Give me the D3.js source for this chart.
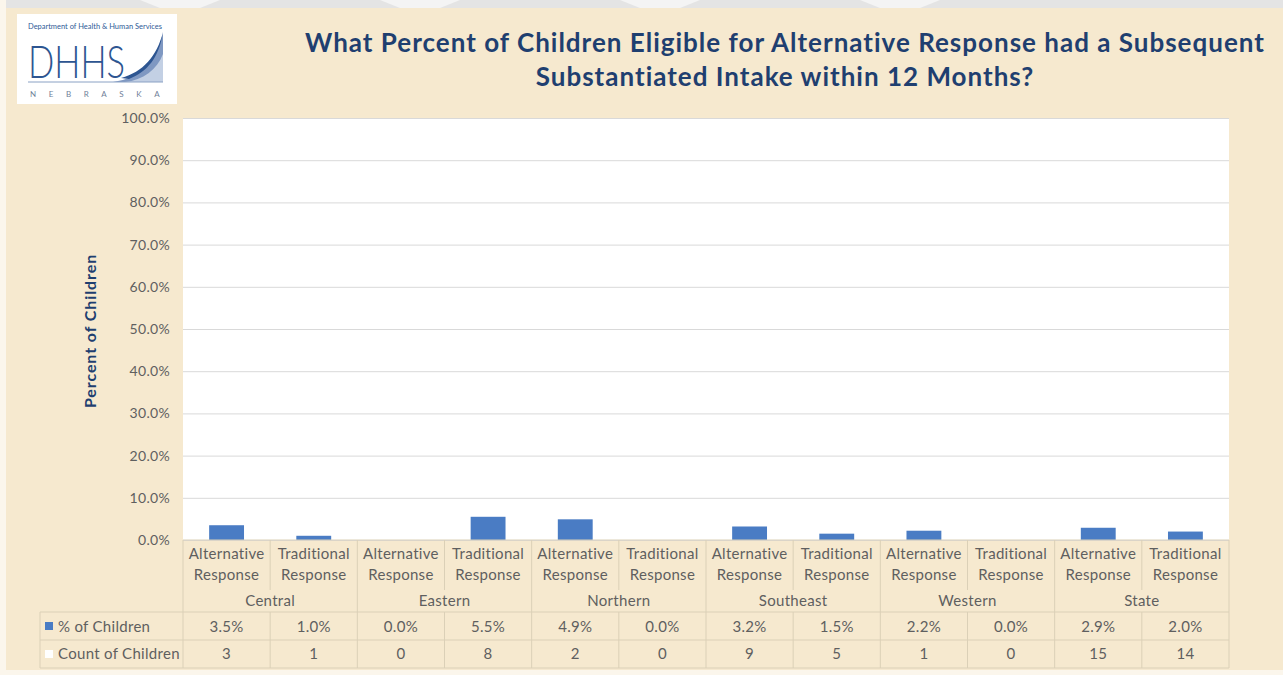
<!DOCTYPE html>
<html lang="en">
<head>
    <meta charset="UTF-8">
    <title>Alternative Response - Subsequent Substantiated Intake</title>
    <style>
        body { margin: 0; background: #f7ebd3; }
        svg { display: block; }
        text { font-family: Lato, "Open Sans", sans-serif; }
    </style>
</head>
<body>
<div id="chart"></div>

<script src="https://d3js.org/d3.v7.min.js"></script>
<script>
    // Chart data
    const regions = ["Central", "Eastern", "Northern", "Southeast", "Western", "State"];
    const responses = ["Alternative Response", "Traditional Response"];
    const pctOfChildren = [3.5, 1.0, 0.0, 5.5, 4.9, 0.0, 3.2, 1.5, 2.2, 0.0, 2.9, 2.0];
    const countOfChildren = [3, 1, 0, 8, 2, 0, 9, 5, 1, 0, 15, 14];
    const yTicks = [0, 10, 20, 30, 40, 50, 60, 70, 80, 90, 100];

    // one row per bar
    const rows = [];
    regions.forEach((r, i) => {
        responses.forEach((resp, j) => {
            const k = i * responses.length + j;
            rows.push({ key: r + "|" + resp, region: r, response: resp, pct: pctOfChildren[k], count: countOfChildren[k] });
        });
    });

    const W = 1283, H = 675;
    const svg = d3.select("#chart").append("svg")
        .attr("width", W)
        .attr("height", H);

    // slide background
    svg.append("rect").attr("width", W).attr("height", H).attr("fill", "#f6e9cf");
    svg.append("rect").attr("width", W).attr("height", 8).attr("fill", "#e4e4e4");
    // faint chevrons of the watermark at the very top
    [180, 420, 660, 900].forEach(cx => {
        svg.append("path")
            .attr("d", `M${cx - 40},0 L${cx + 40},0 L${cx + 20},8 L${cx - 20},8 Z`)
            .attr("fill", "#f4f4f4");
    });
    svg.append("rect").attr("width", 6).attr("height", H).attr("fill", "#fbf6ec");
    svg.append("rect").attr("y", 670).attr("width", W).attr("height", 5).attr("fill", "#fbf6ec");

    // Logo box
    const logo = svg.append("g").attr("transform", "translate(17,14)");
    logo.append("rect").attr("width", 160).attr("height", 90).attr("fill", "#ffffff");
    logo.append("text").attr("x", 11).attr("y", 15)
        .attr("font-size", 7.5).attr("fill", "#2e5a96")
        .attr("textLength", 134).attr("lengthAdjust", "spacingAndGlyphs")
        .text("Department of Health & Human Services");
    // swoosh
    logo.append("path")
        .attr("d", "M100,68 C125,66 140,50 146,18 L146,68 Z")
        .attr("fill", "#c3d0e4");
    logo.append("path")
        .attr("d", "M96,68 C124,64 138,48 146,20 L146,40 C140,56 126,66 108,68 Z")
        .attr("fill", "#7f98c2");
    logo.append("path")
        .attr("d", "M104,64 C126,58 140,42 146,18 C142,44 130,58 112,65 Z")
        .attr("fill", "#2d5591");
    logo.append("text").attr("x", 11).attr("y", 64)
        .attr("font-size", 46).attr("font-weight", 300).attr("fill", "#2d5591")
        .attr("textLength", 97).attr("lengthAdjust", "spacingAndGlyphs")
        .text("DHHS");
    logo.append("line").attr("x1", 11).attr("x2", 146).attr("y1", 68).attr("y2", 68)
        .attr("stroke", "#8aa1c4").attr("stroke-width", 1);
    logo.append("text").attr("x", 13).attr("y", 83)
        .attr("font-size", 8).attr("fill", "#6f7f99").attr("letter-spacing", 12.6)
        .text("NEBRASKA");

    // Title
    const title = svg.append("text")
        .attr("text-anchor", "middle")
        .attr("font-size", 26).attr("font-weight", 700).attr("fill", "#1f3f70")
        .attr("letter-spacing", 1);
    title.append("tspan").attr("x", 785).attr("y", 52)
        .text("What Percent of Children Eligible for Alternative Response had a Subsequent");
    title.append("tspan").attr("x", 785).attr("y", 86)
        .text("Substantiated Intake within 12 Months?");

    // Plot area
    const plot = { left: 183, right: 1229, top: 118, bottom: 540 };

    const x = d3.scaleBand()
        .domain(rows.map(d => d.key))
        .range([plot.left, plot.right])
        .padding(0);

    const y = d3.scaleLinear()
        .domain([0, 100])
        .range([plot.bottom, plot.top]);

    svg.append("rect")
        .attr("x", plot.left).attr("y", plot.top)
        .attr("width", plot.right - plot.left).attr("height", plot.bottom - plot.top)
        .attr("fill", "#ffffff");

    // gridlines + y axis labels
    const yAxis = svg.append("g")
        .attr("transform", `translate(${plot.left},0)`)
        .call(d3.axisLeft(y).tickValues(yTicks)
            .tickSize(-(plot.right - plot.left))
            .tickPadding(13)
            .tickFormat(d => d.toFixed(1) + "%"));
    yAxis.select(".domain").remove();
    yAxis.selectAll(".tick line").attr("stroke", "#d9d9d9").attr("stroke-width", 1);
    yAxis.selectAll(".tick text")
        .attr("fill", "#5f5f5f")
        .attr("letter-spacing", 0.3)
        .style("font-family", "Lato, sans-serif")
        .style("font-size", "14px");

    // Y axis title
    svg.append("text")
        .attr("transform", `translate(96,${(plot.top + plot.bottom) / 2 + 2}) rotate(-90)`)
        .attr("text-anchor", "middle")
        .attr("font-size", 16).attr("font-weight", 700).attr("fill", "#1f3f70")
        .attr("letter-spacing", 0.9)
        .text("Percent of Children");

    // bars
    const barW = x.bandwidth() * 0.4;
    svg.append("g").selectAll("rect")
        .data(rows)
        .join("rect")
        .attr("x", d => x(d.key) + (x.bandwidth() - barW) / 2)
        .attr("y", d => y(d.pct))
        .attr("width", barW)
        .attr("height", d => y(0) - y(d.pct))
        .attr("fill", "#4a7cc4");

    // Data table
    const tb = { top: 540, catBottom: 590, regBottom: 612, pctBottom: 640, bottom: 668, labelLeft: 40 };
    const lineColor = "#dbd0b7";
    const table = svg.append("g");

    // horizontal lines
    [[plot.left, tb.top], [tb.labelLeft, tb.regBottom], [tb.labelLeft, tb.pctBottom], [tb.labelLeft, tb.bottom]]
        .forEach(([x0, yy]) => {
            table.append("line").attr("x1", x0).attr("x2", plot.right)
                .attr("y1", yy).attr("y2", yy).attr("stroke", lineColor);
        });
    table.append("line").attr("x1", tb.labelLeft).attr("x2", tb.labelLeft)
        .attr("y1", tb.regBottom).attr("y2", tb.bottom).attr("stroke", lineColor);

    // vertical lines at column boundaries
    rows.forEach((d, i) => {
        const xx = x(d.key);
        const regionEdge = i % responses.length === 0;
        table.append("line").attr("x1", xx).attr("x2", xx)
            .attr("y1", tb.top).attr("y2", regionEdge ? tb.bottom : tb.catBottom)
            .attr("stroke", lineColor);
        if (!regionEdge) {
            table.append("line").attr("x1", xx).attr("x2", xx)
                .attr("y1", tb.regBottom).attr("y2", tb.bottom).attr("stroke", lineColor);
        }
    });
    table.append("line").attr("x1", plot.right).attr("x2", plot.right)
        .attr("y1", tb.top).attr("y2", tb.bottom).attr("stroke", lineColor);

    const cellText = (sel) => sel.attr("text-anchor", "middle").attr("font-size", 15)
        .attr("letter-spacing", 0.3).attr("fill", "#5f5f5f");

    // category labels (two lines) and values
    rows.forEach(d => {
        const cx = x(d.key) + x.bandwidth() / 2;
        const parts = d.response.split(" ");
        table.append("text").attr("x", cx).attr("y", 559).call(cellText).text(parts[0]);
        table.append("text").attr("x", cx).attr("y", 580).call(cellText).text(parts[1]);
        table.append("text").attr("x", cx).attr("y", 632).call(cellText).text(d.pct.toFixed(1) + "%");
        table.append("text").attr("x", cx).attr("y", 659).call(cellText).text(d.count);
    });

    // region labels
    regions.forEach((r, i) => {
        const first = x(rows[i * 2].key);
        const last = x(rows[i * 2 + 1].key) + x.bandwidth();
        table.append("text").attr("x", (first + last) / 2).attr("y", 606).call(cellText).text(r);
    });

    // row headers with legend keys
    table.append("rect").attr("x", 45).attr("y", 622).attr("width", 8).attr("height", 8).attr("fill", "#4a7cc4");
    table.append("text").attr("x", 58).attr("y", 632).call(cellText).attr("text-anchor", "start").text("% of Children");
    table.append("rect").attr("x", 45).attr("y", 650).attr("width", 8).attr("height", 8).attr("fill", "#ffffff");
    table.append("text").attr("x", 58).attr("y", 659).call(cellText).attr("text-anchor", "start").text("Count of Children");
</script>
</body>
</html>
